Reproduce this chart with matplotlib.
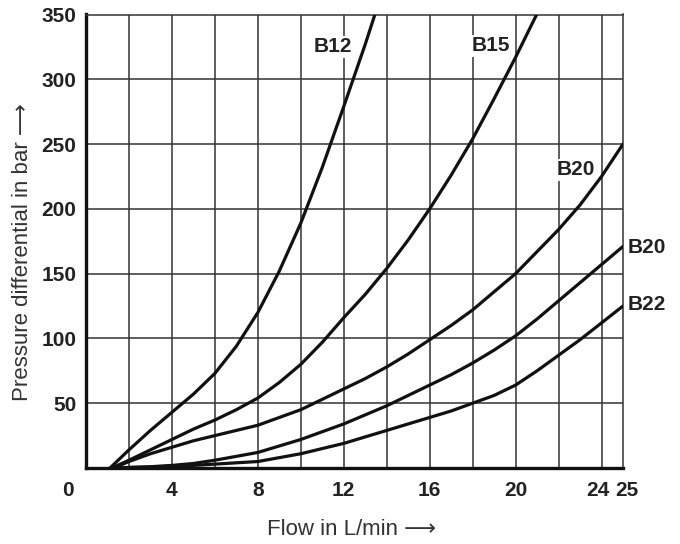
import matplotlib
matplotlib.use("Agg")
import matplotlib.pyplot as plt
from matplotlib.transforms import ScaledTranslation

plt.rcParams['font.family'] = ['Liberation Sans', 'DejaVu Sans']

# ---- data ----
b12_x = [1.12, 2, 3, 4, 5, 6, 7, 8, 9, 10, 11, 12, 13, 13.45]
b12_y = [0, 14, 29, 43, 57, 73, 94, 120, 152, 189, 232, 279, 327, 350]

b15_x = [1.2, 2, 3, 4, 5, 6, 7, 8, 9, 10, 11, 12, 13, 14, 15, 16, 17, 18, 19, 20, 20.98]
b15_y = [0, 6, 14, 22, 30, 37, 45, 54, 66, 80, 97, 116, 134, 154, 176, 200, 226, 254, 285, 317, 350]

b20a_x = [1.3, 2, 3, 4, 5, 6, 7, 8, 9, 10, 11, 12, 13, 14, 15, 16, 17, 18, 19, 20, 21, 22, 23, 24, 25]
b20a_y = [0, 5, 11, 16, 21, 25, 29, 33, 39, 45, 53, 61, 69, 78, 88, 99, 110, 122, 136, 150, 167, 184, 203, 225, 250]

b20b_x = [1.5, 2, 3, 4, 5, 6, 7, 8, 9, 10, 11, 12, 13, 14, 15, 16, 17, 18, 19, 20, 21, 22, 23, 24, 25]
b20b_y = [0, 0.5, 1, 2, 3.5, 6, 9, 12, 17, 22, 28, 34, 41, 48, 56, 64, 72, 81, 91, 102, 115, 129, 143, 157, 171]

b22_x = [1.5, 2, 3, 4, 5, 6, 7, 8, 9, 10, 11, 12, 13, 14, 15, 16, 17, 18, 19, 20, 21, 22, 23, 24, 25]
b22_y = [0, 0.3, 0.6, 1.5, 2, 3, 4, 5, 8, 11, 15, 19, 24, 29, 34, 39, 44, 50, 56, 64, 75, 87, 99, 112, 125]

curve_names = ["B12", "B15", "B20", "B20", "B22"]
label_pos = [(11.5, 325), (18.86, 326), (22.8, 230), (25.2, 170), (25.2, 126)]
label_ha = ["center", "center", "center", "left", "left"]

x_ticks = [0, 4, 8, 12, 16, 20, 24, 25]
y_ticks = [50, 100, 150, 200, 250, 300, 350]
x_grid = [2, 4, 6, 8, 10, 12, 14, 16, 18, 20, 22, 24]
y_grid = [50, 100, 150, 200, 250, 300]

fig = plt.figure(figsize=(6.8, 5.44), dpi=100)
ax = fig.add_axes([86/680, 1-468/544, (623-86)/680, (468-14.5)/544])
ax.set_xlim(0, 25)
ax.set_ylim(0, 350)

grid_c = "#333333"
for gx in x_grid:
    ax.axvline(gx, color=grid_c, lw=1.1, zorder=1)
for gy in y_grid:
    ax.axhline(gy, color=grid_c, lw=1.1, zorder=1)

curves = [(b12_x, b12_y), (b15_x, b15_y), (b20a_x, b20a_y), (b20b_x, b20b_y), (b22_x, b22_y)]
for (cx, cy) in curves:
    ax.plot(cx, cy, color="#111111", lw=2.3, solid_capstyle="round",
            solid_joinstyle="round", zorder=3, clip_on=True)

for name, (lx, ly), ha in zip(curve_names, label_pos, label_ha):
    ax.text(lx, ly, name, ha=ha, va="center", fontsize=15, fontweight="bold",
            color="#222222", zorder=4, clip_on=False,
            bbox=dict(facecolor="white", edgecolor="none", pad=1.0))

for side in ["top", "right"]:
    ax.spines[side].set_linewidth(1.1)
    ax.spines[side].set_color(grid_c)
for side in ["left", "bottom"]:
    ax.spines[side].set_linewidth(2.4)
    ax.spines[side].set_color("#111111")

ax.set_xticks(x_ticks)
ax.set_xticklabels([str(v) for v in x_ticks])
ax.set_yticks(y_ticks)
ax.set_yticklabels([str(v) for v in y_ticks])
ax.tick_params(length=0, labelsize=15, colors="#222222")
ax.tick_params(axis="x", pad=9)
ax.tick_params(axis="y", pad=7)
for lab in ax.get_xticklabels() + ax.get_yticklabels():
    lab.set_fontweight("bold")

xl = ax.get_xticklabels()
shifts = {0: -18, 6: -4, 7: 4}
for i, dx in shifts.items():
    xl[i].set_transform(xl[i].get_transform() + ScaledTranslation(dx/100, 0, fig.dpi_scale_trans))

ax.set_xlabel("Flow in L/min \u27f6", fontsize=16, color="#333333")
ax.set_ylabel("Pressure differential in bar \u27f6", fontsize=16, color="#333333")
ax.xaxis.set_label_coords(0.495, -0.112)
ax.yaxis.set_label_coords(-0.099, 0.476)

fig.savefig("out.png", dpi=100)
